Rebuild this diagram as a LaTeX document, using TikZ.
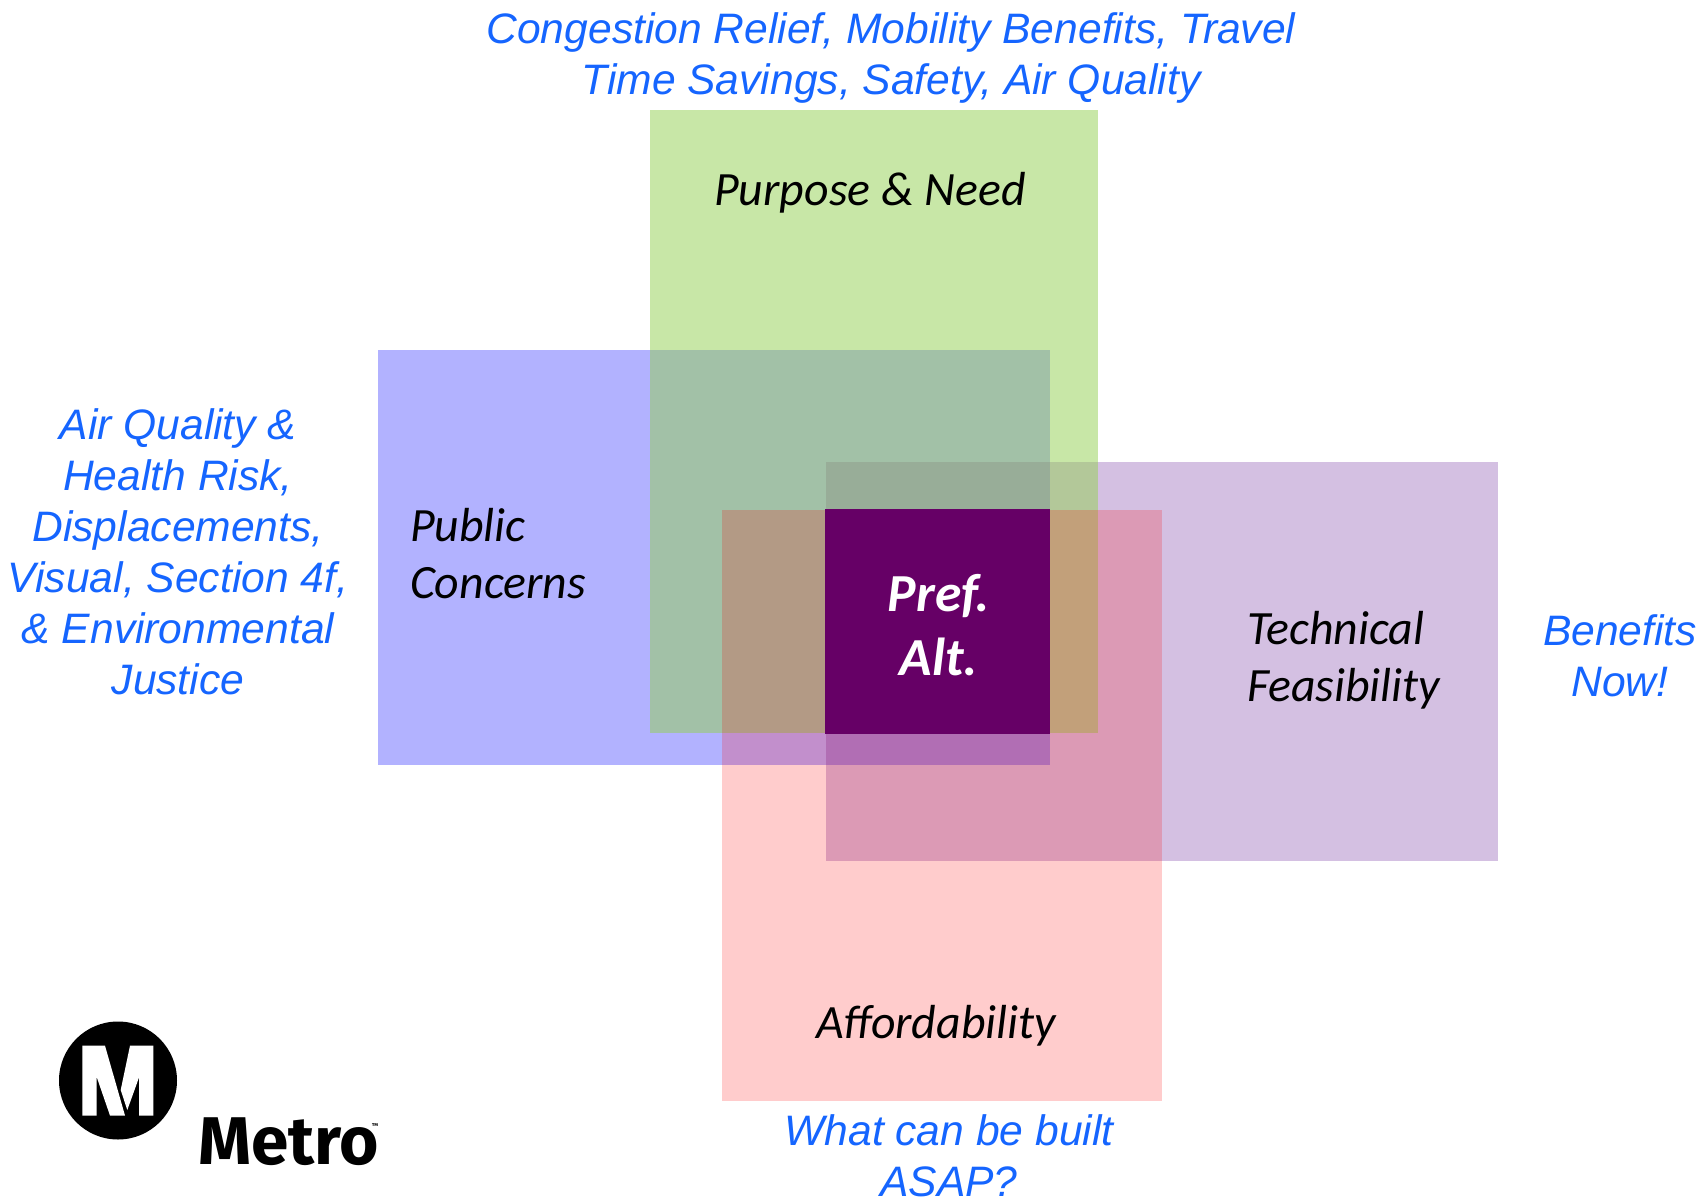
\documentclass[tikz,border=0pt]{standalone}
\usepackage{fontspec}
\setmainfont{Liberation Sans}
\newfontfamily\calibrifont{Carlito}
\newfontfamily\logofont{Fira Sans}
\usetikzlibrary{positioning}
\definecolor{notecolor}{HTML}{1565FF}
\definecolor{needcolor}{HTML}{92D050}
\definecolor{publiccolor}{HTML}{6666FF}
\definecolor{techcolor}{HTML}{7030A0}
\definecolor{prefcolor}{HTML}{660066}

\begin{document}
\begin{tikzpicture}[x=1pt,y=-1pt]
    \tikzstyle{every node}=[inner sep=0,outer sep=0]
    \tikzstyle{area}=[rectangle,draw=none,anchor=north west]
    \tikzstyle{need}=[area,fill=needcolor,fill opacity=0.5,minimum width=448,minimum height=623]
    \tikzstyle{public}=[area,fill=publiccolor,fill opacity=0.5,minimum width=672,minimum height=415]
    \tikzstyle{tech}=[area,fill=techcolor,fill opacity=0.3,minimum width=672,minimum height=399]
    \tikzstyle{afford}=[area,fill=red,fill opacity=0.2,minimum width=440,minimum height=591]
    \tikzstyle{pref}=[area,fill=prefcolor,minimum width=225,minimum height=225]
    \tikzstyle{label}=[font=\calibrifont\itshape\fontsize{47.8}{57}\selectfont,align=left,text=black]
    \tikzstyle{note}=[font=\itshape\fontsize{42.6}{51}\selectfont,align=center,text=notecolor]
    \useasboundingbox (0,0) rectangle (1706,1198);

    % overlapping areas, order matters
    \node[public] (publicbox) at (378,350) {};
    \node[tech] (techbox) at (826,462) {};
    \node[need] (needbox) at (650,110) {};
    \node[afford] (affordbox) at (722,510) {};
    \node[pref] (prefbox) at (825,509) {};

    \node[label] (needlabel) at (870,193) {Purpose \& Need};
    \node[label] (publiclabel) at (410,554) [anchor=west] {Public\\Concerns};
    \node[label] (techlabel) at (1247,660) [anchor=west] {Technical\\Feasibility};
    \node[label] (affordlabel) at (936,1026) {Affordability};
    \node[font=\calibrifont\bfseries\itshape\fontsize{53.5}{64}\selectfont,align=center,text=white] (preflabel) at (939,625) {Pref.\\Alt.};

    \node[note] (neednote) at (891,58) {Congestion Relief, Mobility Benefits, Travel\\Time Savings, Safety, Air Quality};
    \node[note] (publicnote) at (178,551.5) {Air Quality \&\\Health Risk,\\Displacements,\\Visual, Section 4f,\\\& Environmental\\Justice};
    \node[note] (technote) at (1620,656) {Benefits\\Now!};
    \node[note] (affordnote) at (949,1155.5) {What can be built\\ASAP?};

    % logo
    \node[circle,fill=black,minimum size=118] (logodisc) at (118,1080.5) {};
    \fill[white] (82.3,1045.7) -- (105,1045.7) -- (125,1115.5) -- (110,1115.5) -- (96.7,1077) -- (96.7,1115.5) -- (82.3,1115.5) -- cycle;
    \fill[white] (130,1045.7) -- (153.3,1045.7) -- (153.3,1115.5) -- (139,1115.5) -- (139,1077.5) -- (127.3,1110) -- (120.7,1090) -- cycle;
    \node[font=\logofont\bfseries\fontsize{67.5}{67.5}\selectfont,anchor=base west] (logotext) at (198,1164) {Metro\kern-7pt\raisebox{36pt}{\fontsize{7}{7}\selectfont ™}};
\end{tikzpicture}
\end{document}
